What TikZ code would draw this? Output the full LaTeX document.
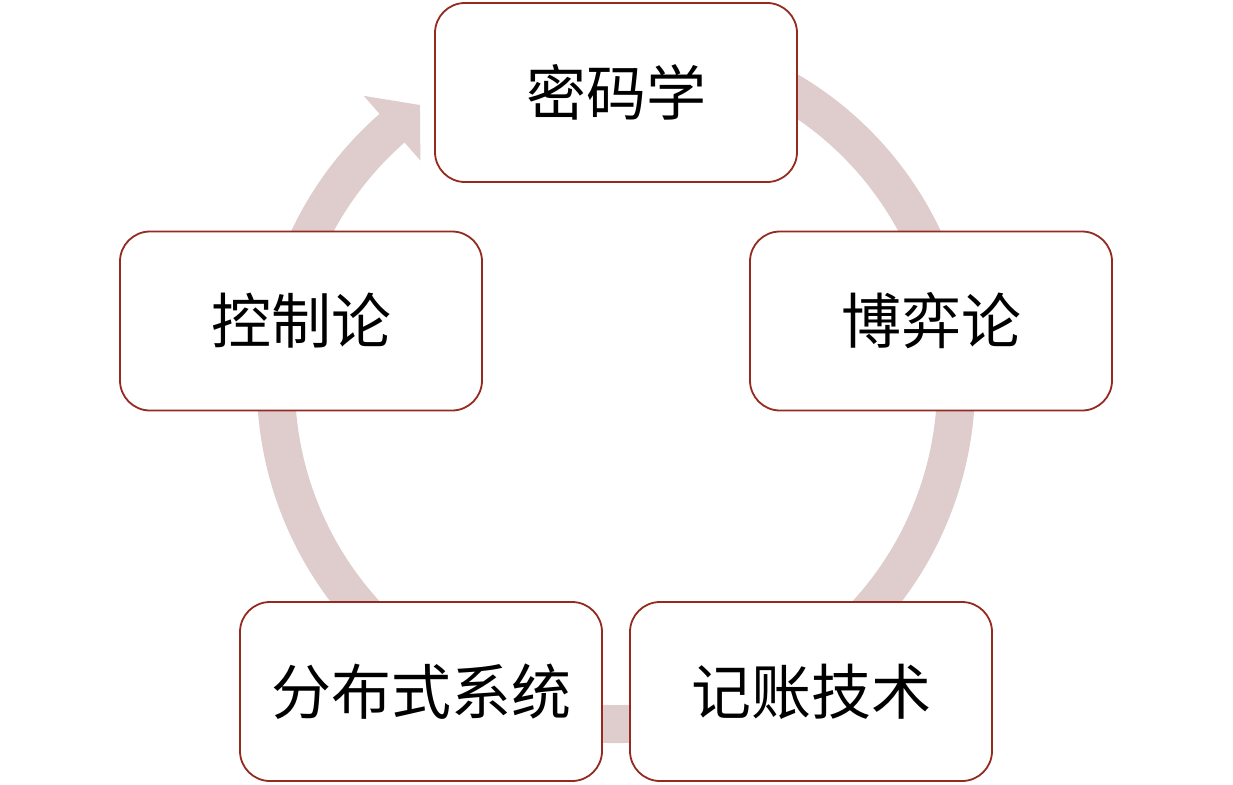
\documentclass[tikz,border=0pt]{standalone}
\usepackage{fontspec}
\setmainfont{Noto Sans CJK SC}
\definecolor{bandcol}{RGB}{223,205,206}
\definecolor{boxline}{RGB}{148,42,32}
\tikzset{
  stagebox/.style={draw=boxline, line width=1.8pt, fill=white, rounded corners=30pt,
    minimum width=362pt, minimum height=179pt, inner sep=0pt,
    font=\fontsize{60}{72}\selectfont},
  band/.style={draw=bandcol, line width=38pt, line cap=butt},
}
\begin{document}
\begin{tikzpicture}[x=1pt,y=1pt]
\useasboundingbox (0,0) rectangle (1233,-784);
\coordinate (C) at (616,-384);
% cycle band
\draw[band] ([shift={(70:340)}]C) arc[start angle=70, end angle=-230, radius=340];
\fill[bandcol] ([shift={(125.1:341)}]C) -- ([shift={(131.2:383)}]C) -- ([shift={(131.2:297)}]C) -- cycle;
% boxes
\node[stagebox] (mima) at (616,-92.5) {密码学};
\node[stagebox] (boyi) at (931,-321) {博弈论};
\node[stagebox] (jizhang) at (811,-691.5) {记账技术};
\node[stagebox] (fenbu) at (421,-691.5) {分布式系统};
\node[stagebox] (kongzhi) at (301,-321) {控制论};
\end{tikzpicture}
\end{document}
